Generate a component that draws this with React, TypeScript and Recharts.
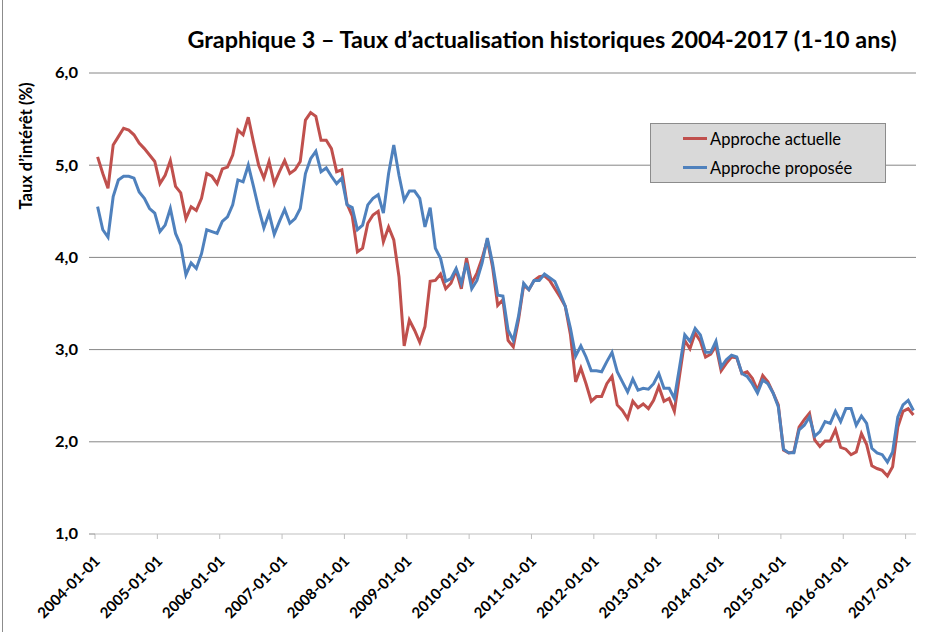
import React from "react";
import { LineChart, Line, XAxis, YAxis, CartesianGrid, Legend } from "recharts";

const FONT = "Lato, 'Open Sans', sans-serif";

// one category per month, 2004-01 .. 2017-02
const months: string[] = [];
for (let y = 2004; y <= 2017; y++) {
  for (let m = 1; m <= 12; m++) {
    months.push(`${y}-${String(m).padStart(2, "0")}-01`);
  }
}
const categories = months.slice(0, 158);

const tickLabels = [
  "2004-01-01", "2005-01-01", "2006-01-01", "2007-01-01", "2008-01-01",
  "2009-01-01", "2010-01-01", "2011-01-01", "2012-01-01", "2013-01-01",
  "2014-01-01", "2015-01-01", "2016-01-01", "2017-01-01",
];

const yTicks = [1, 2, 3, 4, 5, 6];

const actuelle = [
  5.09, 4.91, 4.75, 5.22, 5.31, 5.40, 5.38, 5.33, 5.24, 5.18, 5.11, 5.04,
  4.80, 4.89, 5.05, 4.77, 4.70, 4.42, 4.55, 4.51, 4.64, 4.91, 4.88, 4.80,
  4.96, 4.98, 5.11, 5.38, 5.33, 5.52, 5.25, 5.00, 4.86, 5.04, 4.80, 4.93,
  5.05, 4.91, 4.95, 5.04, 5.49, 5.57, 5.53, 5.27, 5.27, 5.18, 4.93, 4.95,
  4.58, 4.45, 4.06, 4.10, 4.37, 4.46, 4.50, 4.17, 4.33, 4.19, 3.79, 3.04,
  3.32, 3.21, 3.08, 3.25, 3.74, 3.75, 3.82, 3.66, 3.72, 3.86, 3.66, 3.99,
  3.72, 3.83, 3.99, 4.19, 3.90, 3.48, 3.54, 3.10, 3.03, 3.32, 3.70, 3.65,
  3.75, 3.79, 3.80, 3.75, 3.66, 3.57, 3.47, 3.16, 2.65, 2.80, 2.63, 2.44,
  2.49, 2.49, 2.63, 2.71, 2.40, 2.34, 2.25, 2.44, 2.37, 2.41, 2.36, 2.45,
  2.60, 2.44, 2.47, 2.33, 2.72, 3.10, 3.01, 3.18, 3.09, 2.92, 2.95, 3.04,
  2.77, 2.85, 2.92, 2.91, 2.74, 2.76, 2.69, 2.56, 2.72, 2.65, 2.53, 2.40,
  1.91, 1.88, 1.89, 2.16, 2.24, 2.31, 2.02, 1.95, 2.01, 2.01, 2.13, 1.94,
  1.92, 1.86, 1.89, 2.09, 1.97, 1.74, 1.71, 1.69, 1.63, 1.73, 2.16, 2.33,
  2.36, 2.29,
];

const proposee = [
  4.55, 4.30, 4.22, 4.66, 4.84, 4.88, 4.88, 4.86, 4.71, 4.64, 4.53, 4.48,
  4.28, 4.35, 4.53, 4.26, 4.13, 3.81, 3.94, 3.88, 4.04, 4.30, 4.28, 4.26,
  4.39, 4.44, 4.57, 4.84, 4.82, 5.00, 4.77, 4.53, 4.32, 4.48, 4.25, 4.39,
  4.52, 4.37, 4.42, 4.53, 4.91, 5.07, 5.15, 4.93, 4.97, 4.88, 4.80, 4.86,
  4.57, 4.54, 4.30, 4.35, 4.57, 4.64, 4.68, 4.48, 4.91, 5.22, 4.89, 4.62,
  4.72, 4.72, 4.64, 4.33, 4.54, 4.10, 3.99, 3.74, 3.77, 3.88, 3.72, 3.94,
  3.66, 3.75, 3.94, 4.21, 3.94, 3.59, 3.58, 3.21, 3.10, 3.36, 3.72, 3.65,
  3.75, 3.75, 3.82, 3.78, 3.74, 3.61, 3.47, 3.23, 2.93, 3.04, 2.92, 2.77,
  2.77, 2.76, 2.87, 2.97, 2.76, 2.65, 2.54, 2.68, 2.56, 2.58, 2.57, 2.63,
  2.74, 2.58, 2.58, 2.47, 2.81, 3.16, 3.09, 3.23, 3.16, 2.97, 2.97, 3.09,
  2.81, 2.89, 2.94, 2.92, 2.74, 2.71, 2.63, 2.53, 2.67, 2.63, 2.53, 2.38,
  1.92, 1.88, 1.88, 2.13, 2.18, 2.27, 2.06, 2.11, 2.22, 2.20, 2.33, 2.22,
  2.36, 2.36, 2.18, 2.28, 2.20, 1.93, 1.88, 1.86, 1.78, 1.89, 2.27, 2.40,
  2.45, 2.34,
];

// Excel-style category axis: points sit in the middle of each month slot
const data = categories.map((month, i) => ({
  pos: i + 0.5,
  month,
  actuelle: actuelle[i],
  proposee: proposee[i],
}));
const tickPositions = tickLabels.map((_, k) => k * 12);

function DateTick(props: any) {
  const { x, y, payload } = props;
  const label = tickLabels[Math.round(payload.value / 12)];
  const px = x + 6;
  const py = y + 21;
  return (
    <text
      x={px}
      y={py}
      transform={`rotate(-45 ${px} ${py})`}
      textAnchor="end"
      fill="#000"
      fontSize={15}
      fontWeight={700}
      fontFamily={FONT}
    >
      {label}
    </text>
  );
}

function ValueTick(props: any) {
  const { x, y, payload } = props;
  const label = payload.value.toFixed(1).replace(".", ",");
  return (
    <text
      x={x}
      y={y}
      dy="0.36em"
      textAnchor="end"
      fill="#000"
      fontSize={15}
      fontWeight={700}
      fontFamily={FONT}
      textLength={23}
      lengthAdjust="spacingAndGlyphs"
    >
      {label}
    </text>
  );
}

function LegendBox(props: any) {
  const items = props.payload || [];
  return (
    <div
      style={{
        boxSizing: "border-box",
        width: 236,
        height: 60,
        background: "#d9d9d9",
        border: "1px solid #8c8c8c",
        fontFamily: FONT,
        fontSize: 16.5,
        color: "#000",
      }}
    >
      {items.map((it: any) => (
        <div key={it.value} style={{ display: "flex", alignItems: "center", height: 29, paddingLeft: 32 }}>
          <span style={{ display: "inline-block", width: 24, height: 3, background: it.color, marginRight: 3 }} />
          <span>{it.value}</span>
        </div>
      ))}
    </div>
  );
}

export default function App() {
  return (
    <div style={{ position: "fixed", left: 0, top: 0, width: 936, height: 632, background: "#fff" }}>
      <div style={{ position: "absolute", left: 2, top: 0, width: 1, height: 632, background: "#8c8c8c" }} />
      <div
        style={{
          position: "absolute",
          left: 142,
          top: 25,
          width: 800,
          textAlign: "center",
          fontFamily: FONT,
          fontWeight: 700,
          fontSize: 23.4,
          color: "#000",
          whiteSpace: "nowrap",
        }}
      >
        Graphique 3 – Taux d’actualisation historiques 2004-2017 (1-10 ans)
      </div>
      <LineChart
        width={936}
        height={632}
        data={data}
        margin={{ top: 73, right: 20, bottom: 8, left: 0 }}
      >
        <CartesianGrid vertical={false} horizontalValues={[2, 3, 4, 5, 6]} stroke="#868686" />
        <XAxis
          type="number"
          dataKey="pos"
          domain={[0, 158]}
          ticks={tickPositions}
          interval={0}
          height={90}
          tick={<DateTick />}
          tickSize={5}
          tickLine={{ stroke: "#bfbfbf" }}
          axisLine={{ stroke: "#bfbfbf" }}
          allowDataOverflow
        />
        <YAxis
          type="number"
          domain={[1, 6]}
          ticks={yTicks}
          interval={0}
          width={95}
          axisLine={false}
          tickSize={6}
          tickMargin={11}
          tickLine={{ stroke: "#868686" }}
          tick={<ValueTick />}
          label={{
            content: () => (
              <text
                x={32}
                y={146}
                transform="rotate(-90 32 146)"
                textAnchor="middle"
                fill="#000"
                fontSize={16.5}
                fontWeight={700}
                fontFamily={FONT}
              >
                Taux d’intérêt (%)
              </text>
            ),
          }}
        />
        <Legend
          layout="vertical"
          align="center"
          verticalAlign="middle"
          wrapperStyle={{ left: 650, top: 123, width: 236, height: 60 }}
          content={<LegendBox />}
        />
        <Line
          type="linear"
          dataKey="actuelle"
          name="Approche actuelle"
          stroke="#C0504D"
          strokeWidth={3}
          dot={false}
          isAnimationActive={false}
        />
        <Line
          type="linear"
          dataKey="proposee"
          name="Approche proposée"
          stroke="#4F81BD"
          strokeWidth={3}
          dot={false}
          isAnimationActive={false}
        />
      </LineChart>
    </div>
  );
}
